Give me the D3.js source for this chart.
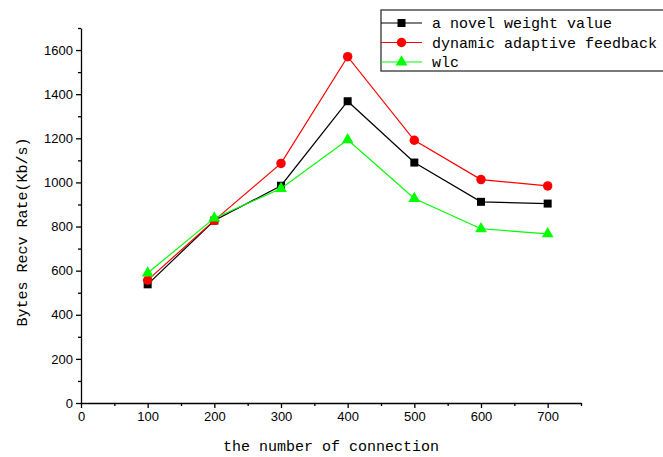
<!DOCTYPE html>
<html>
<head>
<meta charset="utf-8">
<script src="https://cdn.jsdelivr.net/npm/d3@7.9.0/dist/d3.min.js"></script>
<style>
  html, body { margin: 0; padding: 0; background: #fff; }
  svg { display: block; }
  .tick text { font-family: "Liberation Sans", Arial, sans-serif; font-size: 13px; fill: #000; }
  .title { font-family: "Liberation Mono", "DejaVu Sans Mono", monospace; font-size: 15px; fill: #000; }
</style>
</head>
<body>
<div id="chart"></div>
<script>
// ---------- Data ----------
const connections = [100, 200, 300, 400, 500, 600, 700];
const novelWeight = [538, 827, 985, 1368, 1090, 912, 904];
const dynamicFeedback = [557, 828, 1086, 1570, 1191, 1013, 984];
const wlc = [589, 838, 972, 1193, 927, 790, 767];

const xTicks = [0, 100, 200, 300, 400, 500, 600, 700];
const yTicks = [0, 200, 400, 600, 800, 1000, 1200, 1400, 1600];

const series = [
  { name: "a novel weight value", values: novelWeight, color: "#000000", symbol: d3.symbolSquare, size: 64 },
  { name: "dynamic adaptive feedback", values: dynamicFeedback, color: "#ff0000", symbol: d3.symbolCircle, size: 70 },
  { name: "wlc", values: wlc, color: "#00ff00", symbol: d3.symbolTriangle, size: 60 }
];

// ---------- Chart ----------
const width = 663, height = 457;
const svg = d3.select("#chart").append("svg")
  .attr("width", width)
  .attr("height", height);

const xScale = d3.scaleLinear().domain([0, 750]).range([81, 581]);
const yScale = d3.scaleLinear().domain([0, 1700]).range([403, 28]);

// minor ticks
svg.append("g")
  .attr("transform", `translate(0,${yScale(0)})`)
  .call(d3.axisBottom(xScale).tickValues(d3.range(50, 751, 100)).tickSize(3).tickFormat(""))
  .call(g => g.select(".domain").remove());
svg.append("g")
  .attr("transform", `translate(${xScale(0)},0)`)
  .call(d3.axisLeft(yScale).tickValues(d3.range(100, 1701, 200)).tickSize(3).tickFormat(""))
  .call(g => g.select(".domain").remove());

svg.append("g")
  .attr("transform", `translate(0,${yScale(0)})`)
  .call(d3.axisBottom(xScale).tickValues(xTicks).tickSize(5).tickSizeOuter(0).tickPadding(4).tickFormat(d3.format("d")));
svg.append("g")
  .attr("transform", `translate(${xScale(0)},0)`)
  .call(d3.axisLeft(yScale).tickValues(yTicks).tickSize(5).tickSizeOuter(0).tickPadding(3).tickFormat(d3.format("d")));

svg.selectAll(".domain, .tick line").attr("stroke", "#000").attr("stroke-width", 1.3);

// lines and markers
const line = d3.line()
  .x((d, i) => xScale(connections[i]))
  .y(d => yScale(d));

series.forEach(s => {
  svg.append("path")
    .datum(s.values)
    .attr("fill", "none")
    .attr("stroke", s.color)
    .attr("stroke-width", 1.2)
    .attr("d", line);

  svg.append("g").selectAll("path")
    .data(s.values)
    .join("path")
    .attr("transform", (d, i) => `translate(${xScale(connections[i])},${yScale(d)})`)
    .attr("d", d3.symbol().type(s.symbol).size(s.size))
    .attr("fill", s.color);
});

// axis titles
svg.append("text")
  .attr("class", "title")
  .attr("x", 331)
  .attr("y", 451)
  .attr("text-anchor", "middle")
  .text("the number of connection");

svg.append("text")
  .attr("class", "title")
  .attr("transform", "translate(27,232) rotate(-90)")
  .attr("text-anchor", "middle")
  .text("Bytes Recv Rate(Kb/s)");

// legend
const legend = svg.append("g").attr("transform", "translate(381,10)");
legend.append("rect")
  .attr("width", 300)
  .attr("height", 61)
  .attr("fill", "#fff")
  .attr("stroke", "#333")
  .attr("stroke-width", 1.3);

series.forEach((s, i) => {
  const y = 13 + i * 19.5;
  legend.append("line")
    .attr("x1", 0).attr("x2", 41)
    .attr("y1", y).attr("y2", y)
    .attr("stroke", s.color)
    .attr("stroke-width", 1.2);
  legend.append("path")
    .attr("transform", `translate(20.5,${y})`)
    .attr("d", d3.symbol().type(s.symbol).size(s.size))
    .attr("fill", s.color);
  legend.append("text")
    .attr("class", "title")
    .attr("x", 51)
    .attr("y", y + 5)
    .text(s.name);
});
</script>
</body>
</html>
